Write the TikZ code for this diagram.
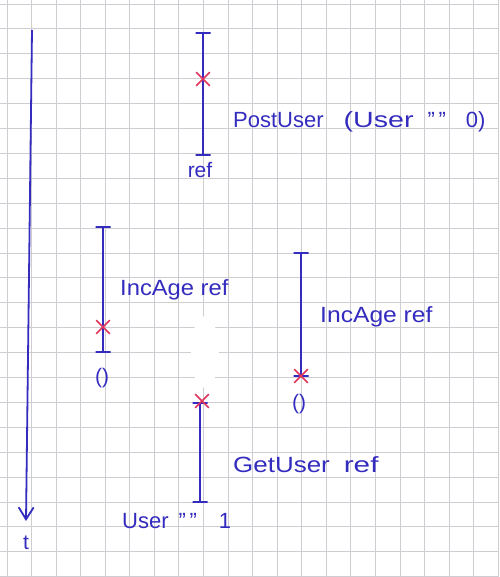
\documentclass[tikz,border=0pt]{standalone}
\usepackage{fontspec}
\setmainfont{Liberation Sans}
\usetikzlibrary{shapes.misc,arrows.meta}
\definecolor{ink}{RGB}{52,44,190}
\definecolor{redink}{RGB}{226,52,92}
\definecolor{gridc}{RGB}{206,206,210}
\newcommand{\dq}{\char34}
\tikzset{
  gridline/.style={draw=gridc,line width=0.9pt},
  life/.style={draw=ink,line width=1.8pt},
  tickbar/.style={draw=ink,line width=1.8pt,rectangle,minimum width=15pt,minimum height=0pt,inner sep=0pt},
  xmark/.style={cross out,draw=redink,line width=1.6pt,minimum size=12pt,inner sep=0pt},
  lbl/.style={text=ink,font=\fontsize{22}{24}\selectfont,inner sep=0pt,anchor=base west},
  small/.style={text=ink,font=\fontsize{21}{23}\selectfont,inner sep=0pt,anchor=base},
}
\begin{document}
\begin{tikzpicture}[x=1pt,y=-1pt]
\useasboundingbox (0,0) rectangle (499,577);
\fill[white] (0,0) rectangle (499,577);
% grid paper
\foreach \i in {0,...,20} \draw[gridline] ({7+24.56*\i},0) -- ({7+24.56*\i},577);
\foreach \j in {0,...,23} \draw[gridline] (0,{4+24.9*\j}) -- (499,{4+24.9*\j});
% erased patch
\fill[white] (205,352) ellipse [x radius=14, y radius=36];
% time axis
\coordinate (ttop) at (32,30);
\coordinate (tend) at (26,521);
\node[small] (t) at (26,549) {t};
\draw[life,-{Straight Barb[length=12pt,width=15pt,line width=1.8pt]}] (ttop) -- (tend);
% PostUser
\node[tickbar] (putop) at (203,33) {};
\node[tickbar] (pubot) at (203,155) {};
\draw[life] (putop.center) -- (pubot.center);
\node[xmark] (pux) at (203,79) {};
\node[small] (puref) at (200,178) {ref};
\node[lbl] (pulbl) at (233,128) {PostUser\hspace{20pt}\scalebox{1.3}[1]{(User}\hspace{14pt}\dq\,\dq\hspace{20pt}0)};
% IncAge left
\node[tickbar] (iltop) at (103,227) {};
\node[tickbar] (ilbot) at (103,352) {};
\draw[life] (iltop.center) -- (ilbot.center);
\node[xmark] (ilx) at (103,327) {};
\node[small] (ilres) at (102,383) {()};
\node[lbl] (illbl) at (120,295) {\scalebox{1.08}[1]{IncAge ref}};
% IncAge right
\node[tickbar] (irtop) at (301,253) {};
\node[tickbar] (irbot) at (301,376) {};
\draw[life] (irtop.center) -- (irbot.center);
\node[xmark] (irx) at (301,376) {};
\node[small] (irres) at (299,409) {()};
\node[lbl] (irlbl) at (320,322) {\scalebox{1.12}[1]{IncAge ref}};
% GetUser
\node[tickbar] (gutop) at (200,403) {};
\node[tickbar] (gubot) at (200,502) {};
\draw[life] (gutop.center) -- (gubot.center);
\node[xmark] (gux) at (202,401) {};
\node[lbl] (gulbl) at (233,472) {\scalebox{1.18}[1]{GetUser}\hspace{14pt}\scalebox{1.35}[1]{ref}};
\node[lbl] (gures) at (122,528) {User\hspace{10pt}\dq\,\dq\hspace{22pt}1};
\end{tikzpicture}
\end{document}
